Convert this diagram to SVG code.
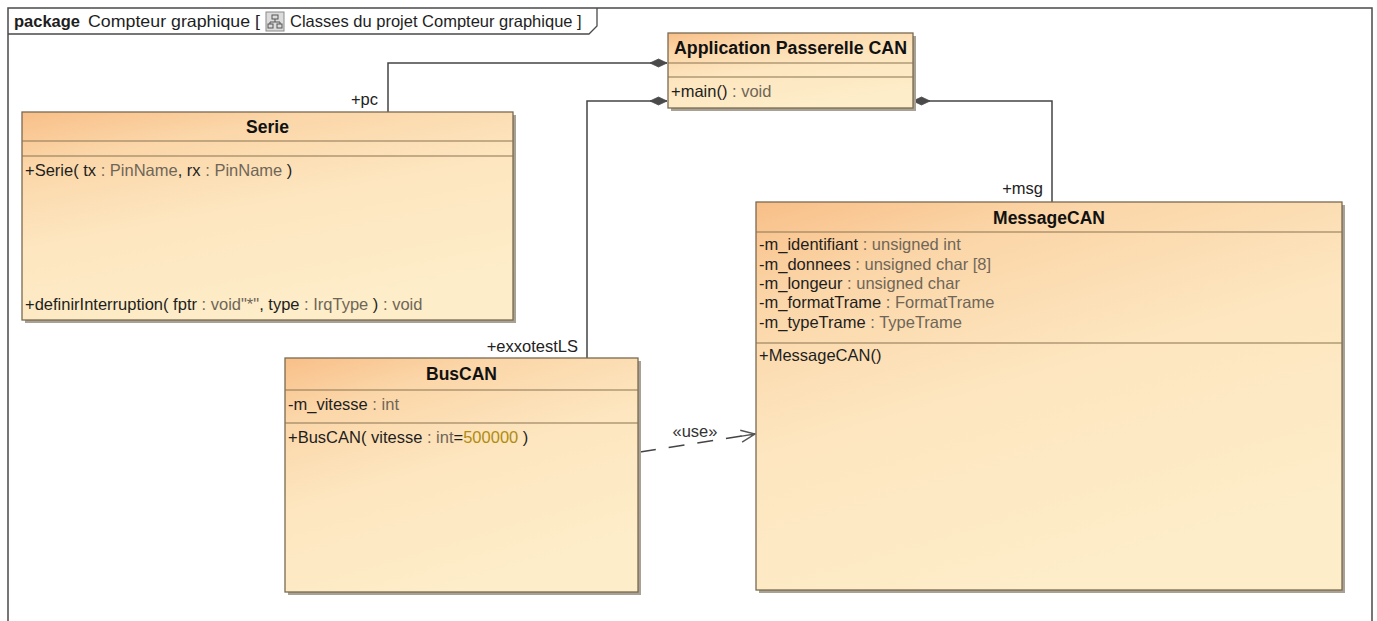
<svg xmlns="http://www.w3.org/2000/svg" width="1377" height="621" viewBox="0 0 1377 621">
<style>
text{font-family:"Liberation Sans",Arial,sans-serif;font-size:16.5px;fill:#1e1e1e}
.ttl{font-weight:bold;font-size:17.5px;text-anchor:middle;fill:#111}
.t{fill:#6f6658}
.v{fill:#b08c10}
.box{stroke:#7a6a50;stroke-width:1.3;fill:url(#cls)}
.sep{stroke:#8a7452;stroke-width:1.2}
.shd{fill:#a9a193}
.con{fill:none;stroke:#444;stroke-width:1.5}
.lbl{fill:#222}
</style>
<defs>
<linearGradient id="cls" x1="0" y1="0" x2="0.45" y2="1">
<stop offset="0" stop-color="#f8bf88"/>
<stop offset="0.22" stop-color="#fbd6a8"/>
<stop offset="0.55" stop-color="#fde6c0"/>
<stop offset="1" stop-color="#fdedc8"/>
</linearGradient>
<marker id="dia" markerUnits="userSpaceOnUse" markerWidth="20" markerHeight="10" refX="0" refY="5" orient="auto" viewBox="0 0 20 10" overflow="visible">
<path d="M0,5 L8.5,1 L17,5 L8.5,9 Z" fill="#4a4a4a" stroke="#4a4a4a" stroke-width="0.8"/>
</marker>
<marker id="open" markerUnits="userSpaceOnUse" markerWidth="16" markerHeight="14" refX="15" refY="7" orient="auto" viewBox="0 0 16 14" overflow="visible">
<path d="M1,1 L15,7 L1,13 M0,7 H15" fill="none" stroke="#555" stroke-width="1.4"/>
</marker>
</defs>
<rect x="0" y="0" width="1377" height="621" fill="#fff"/>

<g id="frame">
<rect x="8" y="8" width="1364" height="640" fill="none" stroke="#4a4a4a" stroke-width="1.5"/>
<path d="M8,34 H589 L597,26 V8" fill="none" stroke="#4a4a4a" stroke-width="1.3"/>
<text x="14" y="27" style="font-weight:bold">package</text>
<text x="88" y="27" textLength="172" lengthAdjust="spacingAndGlyphs">Compteur graphique [</text>
<rect x="266" y="12" width="18" height="19" fill="#dcdcdc" stroke="#8a8a8a"/>
<rect x="272" y="15" width="6" height="4" fill="none" stroke="#555" stroke-width="1"/>
<path d="M275,19 V22 M270,22 H280 M270,22 V24 M280,22 V24" fill="none" stroke="#555" stroke-width="1"/>
<rect x="268" y="24" width="5" height="4" fill="none" stroke="#555" stroke-width="1"/>
<rect x="277" y="24" width="5" height="4" fill="none" stroke="#555" stroke-width="1"/>
<text x="290" y="27">Classes du projet Compteur graphique ]</text>
</g>

<g id="connectors">
<path class="con" d="M667,63 H388 V112" marker-start="url(#dia)"/>
<path class="con" d="M667,101 H587 V358" marker-start="url(#dia)"/>
<path class="con" d="M913,101 H1052 V202" marker-start="url(#dia)"/>
<text class="lbl" x="378" y="105" text-anchor="end">+pc</text>
<text class="lbl" x="578" y="352" text-anchor="end">+exxotestLS</text>
<text class="lbl" x="1043" y="194" text-anchor="end">+msg</text>
<path class="con" d="M640,452 L755,434" stroke="#555" stroke-dasharray="16 13" marker-end="url(#open)"/>
<text class="lbl" x="695" y="437" text-anchor="middle" style="fill:#333">«use»</text>
</g>

<g id="app">
<rect class="shd" x="671" y="36" width="245" height="75"/>
<rect class="box" x="668" y="33" width="245" height="75"/>
<line class="sep" x1="668" y1="63" x2="913" y2="63"/>
<line class="sep" x1="668" y1="77" x2="913" y2="77"/>
<text class="ttl" x="790.5" y="54" textLength="233" lengthAdjust="spacingAndGlyphs">Application Passerelle CAN</text>
<text x="671" y="97">+main()<tspan class="t"> : void</tspan></text>
</g>

<g id="serie">
<rect class="shd" x="25" y="115" width="491" height="208"/>
<rect class="box" x="22" y="112" width="491" height="208"/>
<line class="sep" x1="22" y1="141" x2="513" y2="141"/>
<line class="sep" x1="22" y1="156" x2="513" y2="156"/>
<text class="ttl" x="267.5" y="133">Serie</text>
<text x="25" y="176">+Serie( tx<tspan class="t"> : PinName</tspan>, rx<tspan class="t"> : PinName</tspan> )</text>
<text x="25" y="310">+definirInterruption( fptr<tspan class="t"> : void"*"</tspan>, type<tspan class="t"> : IrqType</tspan> )<tspan class="t"> : void</tspan></text>
</g>

<g id="buscan">
<rect class="shd" x="288" y="361" width="353" height="234"/>
<rect class="box" x="285" y="358" width="353" height="234"/>
<line class="sep" x1="285" y1="390" x2="638" y2="390"/>
<line class="sep" x1="285" y1="423" x2="638" y2="423"/>
<text class="ttl" x="461.5" y="380">BusCAN</text>
<text x="288" y="410">-m_vitesse<tspan class="t"> : int</tspan></text>
<text x="288" y="443">+BusCAN( vitesse<tspan class="t"> : int</tspan>=<tspan class="v">500000</tspan> )</text>
</g>

<g id="messagecan">
<rect class="shd" x="759" y="205" width="586" height="388"/>
<rect class="box" x="756" y="202" width="586" height="388"/>
<line class="sep" x1="756" y1="232" x2="1342" y2="232"/>
<line class="sep" x1="756" y1="343" x2="1342" y2="343"/>
<text class="ttl" x="1049" y="224">MessageCAN</text>
<text x="759" y="250">-m_identifiant<tspan class="t"> : unsigned int</tspan></text>
<text x="759" y="269.5">-m_donnees<tspan class="t"> : unsigned char [8]</tspan></text>
<text x="759" y="289">-m_longeur<tspan class="t"> : unsigned char</tspan></text>
<text x="759" y="308">-m_formatTrame<tspan class="t"> : FormatTrame</tspan></text>
<text x="759" y="327.5">-m_typeTrame<tspan class="t"> : TypeTrame</tspan></text>
<text x="759" y="361">+MessageCAN()</text>
</g>
</svg>
